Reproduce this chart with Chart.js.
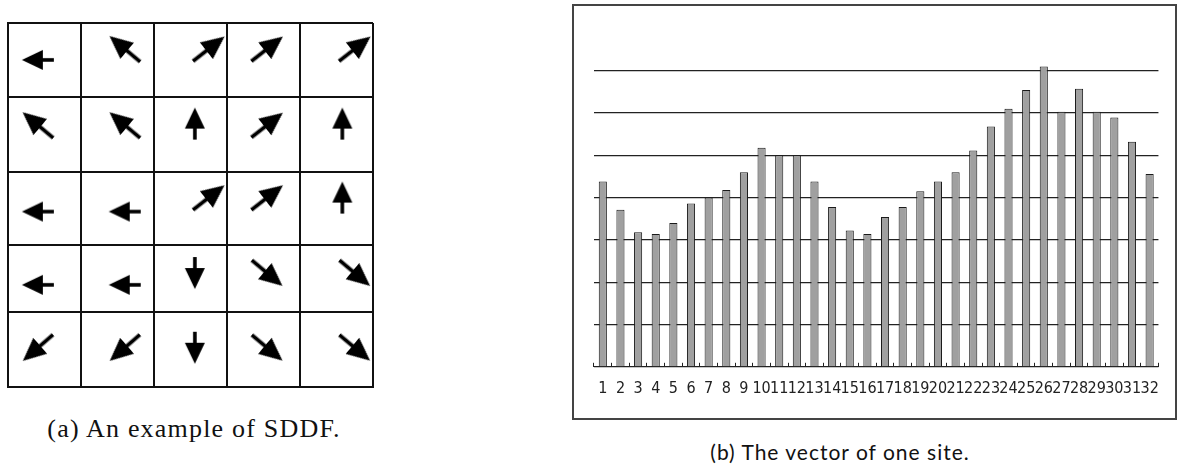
<!DOCTYPE html>
<html>
<head>
<meta charset="utf-8">
<script src="https://cdn.jsdelivr.net/npm/chart.js@4.4.0/dist/chart.umd.min.js"></script>
<style>
  html, body { margin:0; padding:0; background:#fff; }
  body { width:1180px; height:471px; position:relative; overflow:hidden; }
  .abs { position:absolute; }
  #frameB { left:572px; top:4px; width:605px; height:416px; box-sizing:border-box; border:2px solid #444; }
  #capA { left:0; width:388px; top:413px; line-height:1.2; text-align:center; font-family:"Liberation Serif", serif; font-size:26px; letter-spacing:1.2px; color:#111; white-space:nowrap; }
  #capB { left:590px; width:500px; top:439px; line-height:1.2; text-align:center; font-family:"Lato", sans-serif; font-size:21px; letter-spacing:1px; color:#111; white-space:nowrap; }
</style>
</head>
<body>
<div id="boxA" class="abs" style="left:6px;top:21px;width:369px;height:368px;"><canvas id="chartA" width="369" height="368"></canvas></div>
<div id="frameB" class="abs"></div>
<div id="boxB" class="abs" style="left:574px;top:6px;width:601px;height:412px;"><canvas id="chartB" width="601" height="412"></canvas></div>
<div id="capA" class="abs">(a) An example of SDDF.</div>
<div id="capB" class="abs">(b) The vector of one site.</div>
<script>
// ---------- Panel (a): SDDF arrow grid ----------
const colEdges = [0, 1, 2, 3, 4, 5];
const rowEdges = [0, 1, 2.01, 3, 3.91, 4.92];
// arrow centres (column units, row units from top) and directions (degrees, clockwise from east)
const arrowX = [
  0.41, 1.60, 2.75, 3.55, 4.75,
  0.41, 1.60, 2.56, 3.55, 4.58,
  0.41, 1.60, 2.75, 3.55, 4.58,
  0.41, 1.60, 2.56, 3.55, 4.75,
  0.41, 1.60, 2.56, 3.55, 4.75
];
const arrowY = [
  0.50, 0.35, 0.35, 0.35, 0.35,
  1.38, 1.38, 1.36, 1.38, 1.36,
  2.55, 2.55, 2.36, 2.36, 2.36,
  3.54, 3.54, 3.38, 3.38, 3.38,
  4.39, 4.39, 4.39, 4.39, 4.39
];
const arrowAngle = [
  180, -140, -38, -38, -38,
  -140, -140, -90, -38, -90,
  180, 180, -38, -38, -90,
  180, 180, 90, 40, 40,
  139, 139, 90, 40, 40
];

// ---------- Panel (b): vector of one site ----------
const siteLabels = ['1','2','3','4','5','6','7','8','9','10','11','12','13','14','15','16',
                    '17','18','19','20','21','22','23','24','25','26','27','28','29','30','31','32'];
const siteValues = [4.38, 3.71, 3.18, 3.14, 3.40, 3.86, 4.00, 4.18, 4.60, 5.18, 5.00, 5.00,
                    4.38, 3.78, 3.22, 3.14, 3.54, 3.78, 4.15, 4.38, 4.60, 5.11, 5.68, 6.10,
                    6.54, 7.10, 6.03, 6.57, 6.03, 5.89, 5.32, 4.56];
const yGridMax = 7;
const yAxisMax = 7.5;

function makeArrow(len, headLen, headW, shaftW) {
  const c = document.createElement('canvas');
  c.width = len + 4; c.height = headW + 4;
  const g = c.getContext('2d');
  const cy = c.height / 2, x0 = 2, x1 = 2 + len;
  g.fillStyle = '#000';
  g.fillRect(x0, cy - shaftW / 2, len - headLen + 1, shaftW);
  g.beginPath();
  g.moveTo(x1, cy);
  g.lineTo(x1 - headLen, cy - headW / 2);
  g.lineTo(x1 - headLen, cy + headW / 2);
  g.closePath();
  g.fill();
  return c;
}
const straightArrow = makeArrow(32, 21, 20, 3.6);
const diagArrow = makeArrow(40, 23, 21, 3.8);

new Chart(document.getElementById('chartA'), {
  type: 'scatter',
  data: {
    datasets: [{
      data: arrowX.map((x, i) => ({ x: x, y: arrowY[i] })),
      pointStyle: arrowAngle.map(a => (a % 90 === 0 ? straightArrow : diagArrow)),
      rotation: arrowAngle,
      pointRadius: 5
    }]
  },
  options: {
    responsive: false, animation: false, devicePixelRatio: 1,
    layout: { padding: 2, autoPadding: false },
    plugins: { legend: { display: false }, tooltip: { enabled: false } },
    scales: {
      x: {
        type: 'linear', min: colEdges[0], max: colEdges[colEdges.length - 1],
        afterBuildTicks: s => { s.ticks = colEdges.map(v => ({ value: v })); },
        ticks: { display: false },
        grid: { color: '#111', lineWidth: 2, drawTicks: false },
        border: { display: true, color: '#111', width: 2 }
      },
      y: {
        type: 'linear', reverse: true, min: rowEdges[0], max: rowEdges[rowEdges.length - 1],
        afterBuildTicks: s => { s.ticks = rowEdges.map(v => ({ value: v })); },
        ticks: { display: false },
        grid: { color: '#111', lineWidth: 2, drawTicks: false },
        border: { display: true, color: '#111', width: 2 }
      }
    }
  }
});

new Chart(document.getElementById('chartB'), {
  type: 'bar',
  data: {
    labels: siteLabels,
    datasets: [{
      data: siteValues,
      backgroundColor: '#a0a0a0',
      borderColor: '#1a1a1a',
      borderWidth: 1,
      barPercentage: 0.46,
      categoryPercentage: 1
    }]
  },
  options: {
    responsive: false, animation: false, devicePixelRatio: 1,
    layout: { padding: { left: 20, right: 14, top: 43.5, bottom: 4 }, autoPadding: false },
    plugins: { legend: { display: false }, tooltip: { enabled: false } },
    scales: {
      x: {
        grid: { display: true, drawOnChartArea: false, drawTicks: true, tickLength: -4, offset: true, color: '#222', lineWidth: 1 },
        border: { display: true, color: '#222', width: 1 },
        ticks: {
          autoSkip: false, maxRotation: 0, minRotation: 0, padding: 16, color: '#222',
          font: { family: "'Liberation Sans Narrow', 'DejaVu Sans Condensed', sans-serif", size: 16 }
        }
      },
      y: {
        min: 0, max: yAxisMax,
        ticks: { display: false, stepSize: 1 },
        grid: {
          drawTicks: false, lineWidth: 1.2,
          color: ctx => (ctx.tick && ctx.tick.value > yGridMax ? 'rgba(0,0,0,0)' : '#222')
        },
        border: { display: false }
      }
    }
  }
});
</script>
</body>
</html>
